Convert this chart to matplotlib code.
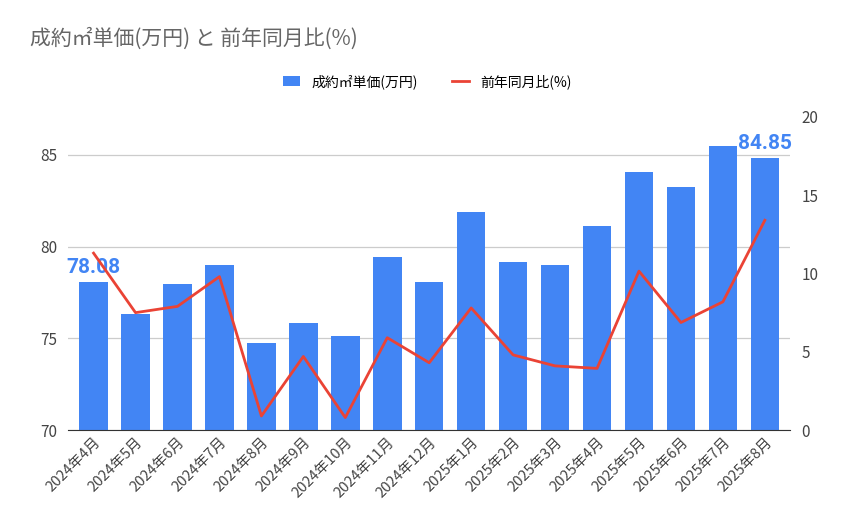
import matplotlib
matplotlib.use("Agg")
import matplotlib.pyplot as plt
import numpy as np

plt.rcParams["font.family"] = ["Noto Sans CJK JP"]

months = ["2024年4月","2024年5月","2024年6月","2024年7月","2024年8月","2024年9月","2024年10月",
          "2024年11月","2024年12月","2025年1月","2025年2月","2025年3月","2025年4月","2025年5月",
          "2025年6月","2025年7月","2025年8月"]
price = [78.08, 76.3, 77.94, 78.98, 74.76, 75.86, 75.14, 79.41, 78.05, 81.88, 79.14, 78.98,
         81.1, 84.04, 83.27, 85.49, 84.85]
yoy = [11.3, 7.5, 7.9, 9.8, 0.9, 4.7, 0.8, 5.9, 4.3, 7.8, 4.8, 4.1, 3.94, 10.15, 6.87, 8.19, 13.4]
left_ticks = [70, 75, 80, 85]
right_ticks = [0, 5, 10, 15, 20]

blue = "#4285f4"
red = "#ea4335"
grey = "#444444"

fig = plt.figure(figsize=(8.55, 5.29), dpi=100)
ax = fig.add_axes([0.08, 0.187, 0.844, 0.592])
x = np.arange(len(months))
ax.bar(x, price, width=0.68, color=blue, zorder=2, label="成約㎡単価(万円)")
ax.set_ylim(70, 87.07)
ax.set_yticks(left_ticks)
ax.set_xlim(-0.6, len(months) - 0.4)
ax.grid(axis="y", color="#cccccc", lw=0.9, zorder=0)
for s in ["top", "right", "left"]:
    ax.spines[s].set_visible(False)
ax.spines["bottom"].set_color("#333333")
ax.tick_params(axis="y", length=0, labelsize=11, colors=grey, pad=8)
ax.set_xticks(x)
ax.set_xticklabels(months, rotation=45, ha="right", rotation_mode="anchor", fontsize=10.5, color=grey)
ax.tick_params(axis="x", length=0)

ax2 = ax.twinx()
ax2.plot(x, yoy, color=red, lw=2, zorder=3, label="前年同月比(%)")
ax2.set_ylim(0, 20)
ax2.set_yticks(right_ticks)
for s in ax2.spines.values():
    s.set_visible(False)
ax2.tick_params(axis="y", length=0, labelsize=11, colors=grey, pad=8)

for i in (0, len(price) - 1):
    ax.text(x[i], price[i] + 0.25, f"{price[i]:.2f}", ha="center", va="bottom",
            fontsize=15, fontweight="bold", color=blue, zorder=5, family="Roboto")

fig.text(0.035, 0.915, "成約㎡単価(万円) と 前年同月比(%)", fontsize=15, color="#666666")
h1, l1 = ax.get_legend_handles_labels()
h2, l2 = ax2.get_legend_handles_labels()
fig.legend(h1 + h2, l1 + l2, loc="center", bbox_to_anchor=(0.5, 0.846), ncol=2,
           frameon=False, fontsize=10, handlelength=1.2, columnspacing=2.5)

fig.savefig("out.png", dpi=100)
